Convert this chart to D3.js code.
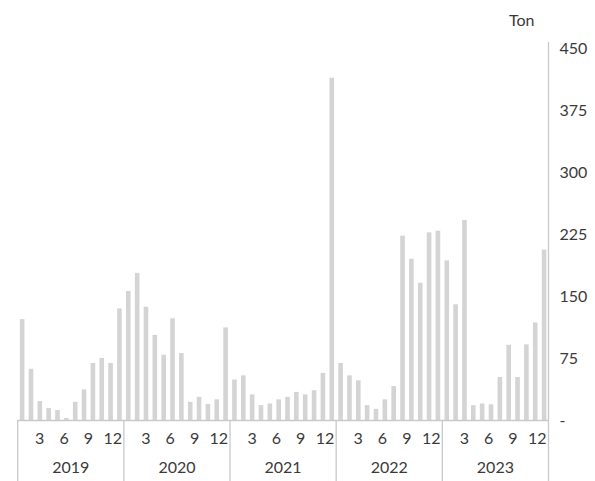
<!DOCTYPE html>
<html>
<head>
<meta charset="utf-8">
<script src="https://cdn.jsdelivr.net/npm/d3@7/dist/d3.min.js"></script>
<style>
  html, body { margin: 0; padding: 0; background: #fff; }
  text { font-family: Lato, "Noto Sans", sans-serif; fill: #3a3a3a; }
</style>
</head>
<body>
<svg id="chart" width="595" height="481"></svg>
<script>
const years = ["2019", "2020", "2021", "2022", "2023"];
const monthTickLabels = ["3", "6", "9", "12"];
const yTicks = [0, 75, 150, 225, 300, 375, 450];
const unitLabel = "Ton";
const v2019 = [122, 62, 23, 14.5, 12, 2.5, 22, 37, 69, 75, 69, 135];
const v2020 = [156, 178, 137, 103, 79, 123, 81, 22, 28, 19.5, 25, 112];
const v2021 = [49, 54, 31, 18, 20, 25, 28, 34, 31, 36, 57, 414];
const v2022 = [69, 54, 48, 18, 13.5, 25, 41, 223, 195, 166, 227, 229];
const v2023 = [193, 140, 242, 18, 20, 19, 52, 91, 52, 91.5, 118, 206];

(function () {
const series = [v2019, v2020, v2021, v2022, v2023];
const data = [];
series.forEach((arr, yi) => arr.forEach((v, mi) => data.push({ year: years[yi], month: mi + 1, key: years[yi] + "-" + (mi + 1), value: v })));

const svg = d3.select("#chart");
const pLeft = 17.7, pRight = 548.5, pTop = 48, pBottom = 420;
const lineColor = "#c9c9c9";

const x = d3.scaleBand().domain(data.map(d => d.key)).range([pLeft, pRight]).paddingInner(0.48).paddingOuter(0.24);
const y = d3.scaleLinear().domain([0, 450]).range([pBottom, pTop]);
const xYear = d3.scaleBand().domain(years).range([pLeft, pRight]).padding(0);

// bars
svg.append("g").selectAll("rect").data(data).join("rect")
  .attr("x", d => x(d.key))
  .attr("y", d => y(d.value))
  .attr("width", x.bandwidth())
  .attr("height", d => y(0) - y(d.value))
  .attr("fill", "#d4d4d4");

// baseline
svg.append("line").attr("x1", pLeft).attr("x2", pRight).attr("y1", pBottom + 0.5).attr("y2", pBottom + 0.5)
  .attr("stroke", lineColor).attr("stroke-width", 1.3);

// right axis line
svg.append("line").attr("x1", pRight).attr("x2", pRight).attr("y1", 42).attr("y2", 481)
  .attr("stroke", lineColor).attr("stroke-width", 1.3);

// year separators
const seps = years.map(yr => xYear(yr));
svg.append("g").selectAll("line").data(seps).join("line")
  .attr("x1", d => d).attr("x2", d => d).attr("y1", pBottom).attr("y2", 481)
  .attr("stroke", lineColor).attr("stroke-width", 1.3);

// y axis labels
const yAxis = d3.axisRight(y).tickValues(yTicks).tickSize(0).tickPadding(11)
  .tickFormat(d => d === 0 ? "-" : d3.format("d")(d));
const ga = svg.append("g").attr("transform", `translate(${pRight},0)`).call(yAxis);
ga.select(".domain").remove();
ga.selectAll("text").style("font-size", "16px").style("font-family", "Lato, 'Noto Sans', sans-serif").attr("fill", "#3a3a3a");

// unit label
svg.append("text").attr("x", 509).attr("y", 22).attr("dominant-baseline", "middle")
  .style("font-size", "16px").text(unitLabel);

// month labels and year labels
years.forEach(yr => {
  const x0 = xYear(yr);
  const mp = d3.scalePoint().domain(monthTickLabels).range([x0 + 22, x0 + 95]);
  svg.append("g").selectAll("text").data(monthTickLabels).join("text")
    .attr("x", d => mp(d)).attr("y", 440).attr("text-anchor", "middle").attr("dominant-baseline", "middle")
    .style("font-size", "16px").text(d => d);
  svg.append("text").attr("x", x0 + xYear.bandwidth() / 2).attr("y", 469)
    .attr("text-anchor", "middle").attr("dominant-baseline", "middle")
    .style("font-size", "16px").text(yr);
});
})();
</script>
</body>
</html>
